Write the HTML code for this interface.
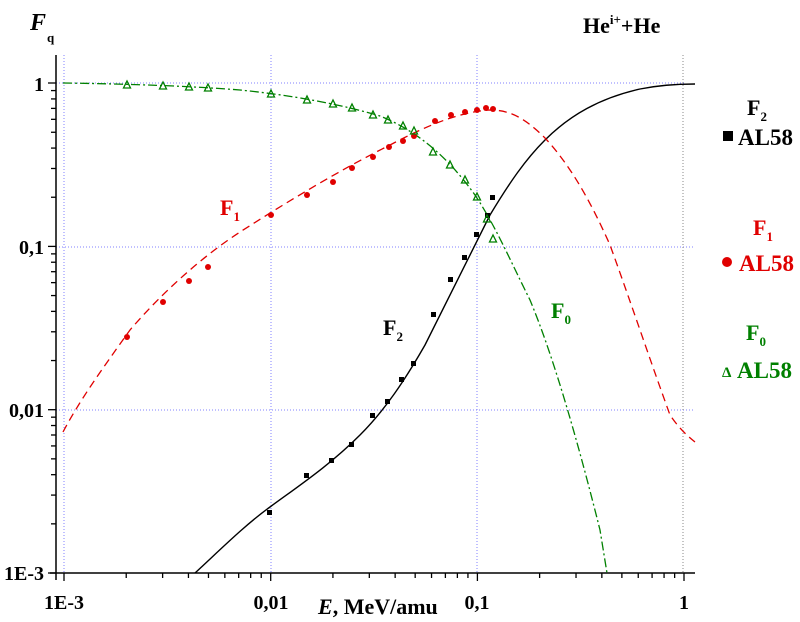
<!DOCTYPE html>
<html><head><meta charset="utf-8"><style>
body{margin:0;background:#fff}
svg{display:block}
text{font-family:"Liberation Serif",serif;font-weight:bold}
</style></head><body>
<svg width="800" height="622" viewBox="0 0 800 622" xmlns="http://www.w3.org/2000/svg">
<g stroke="#8080ff" stroke-width="1" stroke-dasharray="1,2" fill="none">
<line x1="64" y1="55" x2="64" y2="573"/>
<line x1="271" y1="55" x2="271" y2="573"/>
<line x1="477" y1="55" x2="477" y2="573"/>
<line x1="56" y1="83" x2="684" y2="83"/>
<line x1="56" y1="247" x2="695" y2="247"/>
<line x1="56" y1="410" x2="695" y2="410"/>
</g>
<line x1="683" y1="55" x2="683" y2="573" stroke="#888" stroke-dasharray="1,2"/>
<g stroke="#000" stroke-width="1.5" fill="none">
<line x1="56" y1="55" x2="56" y2="580"/>
<line x1="50" y1="573" x2="695" y2="573"/>
</g>
<g id="tk" stroke="#000" stroke-width="1.3"></g>
<g fill="#000" font-size="20">
<text x="44" y="91" text-anchor="end">1</text>
<text x="44" y="254" text-anchor="end">0,1</text>
<text x="44" y="417" text-anchor="end">0,01</text>
<text x="44" y="580" text-anchor="end">1E-3</text>
<text x="64" y="609" text-anchor="middle">1E-3</text>
<text x="271" y="609" text-anchor="middle">0,01</text>
<text x="477" y="609" text-anchor="middle">0,1</text>
<text x="684" y="609" text-anchor="middle">1</text>
</g>
<text x="318" y="614" font-size="22"><tspan font-style="italic">E</tspan>, MeV/amu</text>
<text x="30" y="30" font-size="24" font-style="italic">F</text><text x="47" y="42" font-size="13">q</text>
<text x="583" y="33" font-size="22">He<tspan font-size="13" dy="-9">i+</tspan><tspan dy="9">+He</tspan></text>
<path d="M195,573 C220,550 245,525 270,507 C300,485 330,465 360,435 C385,410 405,380 425,345 C445,305 465,265 490,215 C510,182 525,160 545,140 C570,115 600,98 640,89 C660,85 680,84 695,84" stroke="#000" stroke-width="1.4" fill="none"/>
<path d="M63,432 C80,400 100,372 130,330 C160,295 200,258 240,232 C290,200 340,170 390,145 C430,124 460,112 490,110 C510,110 525,118 545,138 C570,165 590,200 610,245 C630,300 650,360 670,415 C680,430 690,438 695,442" stroke="#e00000" stroke-width="1.3" stroke-dasharray="8,5" fill="none"/>
<path d="M63,83 C130,84 190,86 240,90 C290,95 340,104 380,116 C420,132 450,160 475,195 C495,225 510,260 530,300 C555,360 580,450 600,530 L607,573" stroke="#008000" stroke-width="1.3" stroke-dasharray="9,3,2,3" fill="none"/>
<g fill="#000">
<rect x="267" y="510" width="5" height="5"/><rect x="304" y="473" width="5" height="5"/><rect x="329" y="458" width="5" height="5"/><rect x="349" y="442" width="5" height="5"/><rect x="370" y="413" width="5" height="5"/><rect x="385" y="399" width="5" height="5"/><rect x="399" y="377" width="5" height="5"/><rect x="411" y="361" width="5" height="5"/><rect x="431" y="312" width="5" height="5"/><rect x="448" y="277" width="5" height="5"/><rect x="462" y="255" width="5" height="5"/><rect x="474" y="232" width="5" height="5"/><rect x="485" y="213" width="5" height="5"/><rect x="490" y="195" width="5" height="5"/>
</g>
<g fill="#e00000">
<circle cx="127" cy="337" r="3"/><circle cx="163" cy="302" r="3"/><circle cx="189" cy="281" r="3"/><circle cx="208" cy="267" r="3"/><circle cx="271" cy="215" r="3"/><circle cx="307" cy="195" r="3"/><circle cx="333" cy="182" r="3"/><circle cx="352" cy="168" r="3"/><circle cx="373" cy="157" r="3"/><circle cx="389" cy="147" r="3"/><circle cx="403" cy="141" r="3"/><circle cx="414" cy="136" r="3"/><circle cx="435" cy="121" r="3"/><circle cx="451" cy="115" r="3"/><circle cx="465" cy="112" r="3"/><circle cx="477" cy="110" r="3"/><circle cx="486" cy="108" r="3"/><circle cx="493" cy="109" r="3"/>
</g>
<g id="tri" fill="none" stroke="#008000" stroke-width="1.3"></g>
<g font-size="22" fill="#e00000"><text x="220" y="215">F<tspan font-size="13" dy="6">1</tspan></text></g>
<g font-size="22" fill="#000"><text x="383" y="335">F<tspan font-size="13" dy="6">2</tspan></text></g>
<g font-size="22" fill="#008000"><text x="551" y="318">F<tspan font-size="13" dy="6">0</tspan></text></g>
<text x="747" y="115" font-size="22" fill="#000">F<tspan font-size="13" dy="6">2</tspan></text>
<rect x="723" y="131" width="10" height="10" fill="#000"/>
<text x="738" y="145" font-size="23" fill="#000">AL58</text>
<text x="753" y="235" font-size="22" fill="#e00000">F<tspan font-size="13" dy="6">1</tspan></text>
<circle cx="727" cy="262" r="5" fill="#e00000"/>
<text x="739" y="271" font-size="23" fill="#e00000">AL58</text>
<text x="746" y="340" font-size="22" fill="#008000">F<tspan font-size="13" dy="6">0</tspan></text>
<text x="722" y="377" font-size="15" fill="#008000">Δ</text>
<text x="737" y="378" font-size="23" fill="#008000">AL58</text>
</svg>
<script>
var ns="http://www.w3.org/2000/svg",tk=document.getElementById('tk');
function ln(a,b,c,d){var l=document.createElementNS(ns,'line');l.setAttribute('x1',a);l.setAttribute('y1',b);l.setAttribute('x2',c);l.setAttribute('y2',d);tk.appendChild(l);}
var x0=64,dx=206.7,y0=83,dy=163.3;
for(var d=0;d<3;d++)for(var m=1;m<10;m++){var x=x0+dx*(d+Math.log10(m));ln(x,573,x,m==1?581:578);}
ln(684,573,684,581);
for(var d=0;d<3;d++)for(var m=1;m<10;m++){var y=573-dy*(d+Math.log10(m));ln(56,y,m==1?48:51,y);}
ln(56,83,48,83);
var tr=document.getElementById('tri');
[[127,85],[163,86],[189,87],[208,88],[271,94],[307,100],[333,104],[352,108],[373,115],[388,120],[403,126],[414,131],[433,152],[450,165],[465,180],[477,197],[487,219],[493,239]].forEach(function(p){var g=document.createElementNS(ns,'polygon');g.setAttribute('points',(p[0]-3.5)+','+(p[1]+3)+' '+(p[0]+3.5)+','+(p[1]+3)+' '+p[0]+','+(p[1]-4));tr.appendChild(g);});
</script>
</body></html>
